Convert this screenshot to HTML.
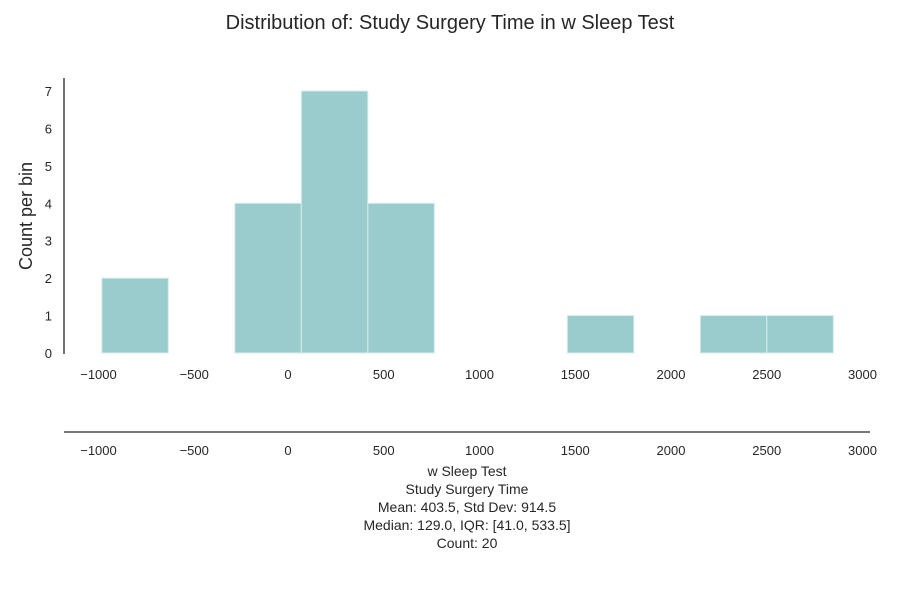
<!DOCTYPE html>
<html><head><meta charset="utf-8"><style>
body{margin:0;background:#fff;font-family:"Liberation Sans",sans-serif;}
svg text{font-family:"Liberation Sans",sans-serif;fill:#262626;}
</style></head><body>
<svg width="900" height="600">
<text x="450" y="29" font-size="20" text-anchor="middle">Distribution of: Study Surgery Time in w Sleep Test</text>
<g id="bars"></g>
<line x1="64" y1="78" x2="64" y2="354" stroke="#262626" stroke-width="1.3"/>
<g id="yt"></g><g id="xt"></g><g id="xt2"></g>
<text transform="translate(32,216) rotate(-90)" font-size="18" text-anchor="middle">Count per bin</text>
<line x1="64" y1="432" x2="870" y2="432" stroke="#262626" stroke-width="1.3"/>
<g font-size="14" text-anchor="middle">
<text x="467" y="476">w Sleep Test</text>
<text x="467" y="494">Study Surgery Time</text>
<text x="467" y="512">Mean: 403.5, Std Dev: 914.5</text>
<text x="467" y="530">Median: 129.0, IQR: [41.0, 533.5]</text>
<text x="467" y="548">Count: 20</text>
</g>
</svg>
<script>
const binStart=-990, binWidth=348;
const counts=[2,0,4,7,4,0,0,1,0,1,1];
const xTicks=[-1000,-500,0,500,1000,1500,2000,2500,3000];
const yTicks=[0,1,2,3,4,5,6,7];
const NS="http://www.w3.org/2000/svg";
const xs=v=>291+v*0.1911, ys=v=>353-v*37.43;
const xl=v=>288+v*0.1915;
function mk(t,a,p){const e=document.createElementNS(NS,t);for(const k in a)e.setAttribute(k,a[k]);document.getElementById(p).appendChild(e);return e;}
counts.forEach((c,i)=>{if(!c)return;const x0=xs(binStart+i*binWidth),x1=xs(binStart+(i+1)*binWidth);
const r=mk('rect',{x:x0,y:ys(c),width:x1-x0,height:ys(0)-ys(c),fill:'#9accce',stroke:'#d8ecec','stroke-width':1},'bars');

});
yTicks.forEach(v=>{const t=mk('text',{x:52,y:ys(v)+5,'font-size':13,'text-anchor':'end'},'yt');t.textContent=v;

});
xTicks.forEach(v=>{const s=v<0?'\u2212'+(-v):''+v;
const lx=xl(v)+(v<0?2:0);
const t=mk('text',{x:lx,y:379,'font-size':13,'text-anchor':'middle'},'xt');t.textContent=s;


const t2=mk('text',{x:lx,y:455,'font-size':13,'text-anchor':'middle'},'xt2');t2.textContent=s;

});
</script>
</body></html>
